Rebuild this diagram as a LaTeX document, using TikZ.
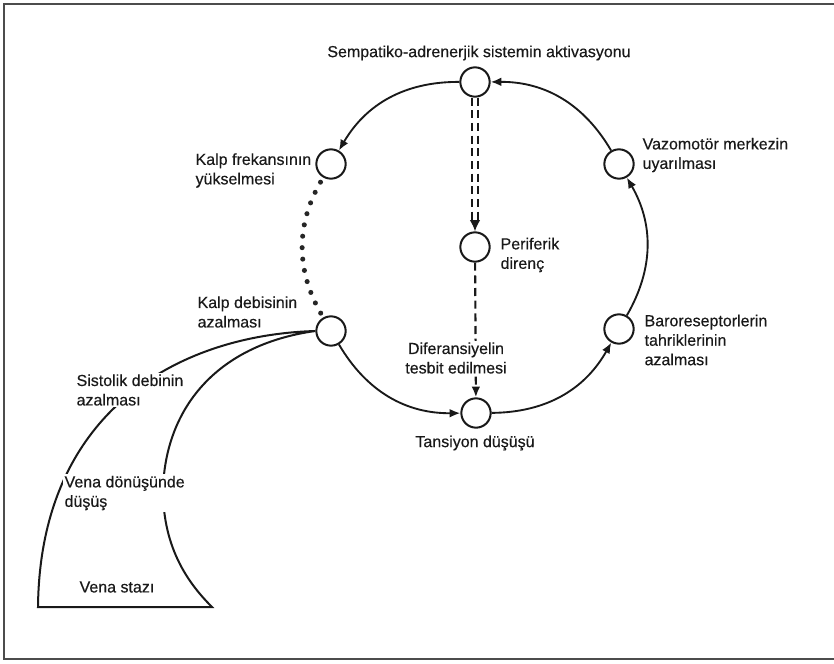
\documentclass[tikz,border=0pt]{standalone}
\usepackage{fontspec}
\setmainfont{Liberation Sans}
\newfontfamily\lblfont{Liberation Sans}[BoldFont=Liberation Sans, BoldFeatures={FakeBold=0.35}]
\usetikzlibrary{arrows.meta}
\begin{document}
\begin{tikzpicture}[x=0.75pt,y=-0.75pt,
  state/.style={circle, draw=black!90, line width=1.5pt, minimum size=22pt, inner sep=0pt, fill=white},
  lbl/.style={font=\lblfont\bfseries\fontsize{12}{14.6}\selectfont, text=black!90, inner sep=1pt, align=left, fill=white},
  arcarrow/.style={draw=black!90, line width=1.4pt, -{Latex[length=8pt,width=6.5pt]}},
  bigdots/.style={draw=black!85, line width=3.8pt, line cap=round, dash pattern=on 0pt off 8.6pt},
  dashline/.style={draw=black!90, line width=1.6pt, dash pattern=on 6pt off 3.5pt},
  frameline/.style={draw=black!70, line width=1.5pt},
  curveline/.style={draw=black!90, line width=1.5pt}
]
\useasboundingbox (0,0) rectangle (834,663);

% frame
\coordinate (f1) at (4,659);
\coordinate (f2) at (4,4);
\coordinate (f3) at (834,4);
\coordinate (f4) at (834,659);
\draw[frameline] (f3) -- (f2) -- (f1) -- (f4);

% circle nodes
\node[state] (top) at (475,82) {};
\node[state] (kf)  at (331,164) {};
\node[state] (kd)  at (331,331) {};
\node[state] (tan) at (476,413) {};
\node[state] (bar) at (619,329) {};
\node[state] (vaz) at (619,164) {};
\node[state] (per) at (475,247) {};

% cycle
\draw[arcarrow] (top) to[bend right=30] (kf);
\draw[bigdots, shorten <=4pt, shorten >=3pt] (kf) to[bend right=30] (kd);
\draw[arcarrow] (kd) to[bend right=30] (tan);
\draw[arcarrow] (tan) to[bend right=30] (bar);
\draw[arcarrow] (bar) to[bend right=30] (vaz);
\draw[arcarrow] (vaz) to[bend right=30] (top);

% double dashed line to periferik
\draw[dashline, line width=1.3pt, shorten >=6pt, transform canvas={xshift=-2.1pt}] (top) -- (per);
\draw[dashline, line width=1.3pt, shorten >=6pt, transform canvas={xshift=2.1pt}] (top) -- (per);
\draw[draw=black!90, line width=1.3pt, dash pattern=on 0pt off 2000pt, -{Latex[length=8.5pt,width=8pt]}] (top) -- (per);

% dashed line to tansiyon
\draw[dashline, -{Latex[length=8pt,width=6.5pt]}] (per) -- (tan);

% left shape
\coordinate (ob) at (38,607);
\coordinate (ib) at (212,607);
\draw[curveline] (kd.west) .. controls (180,335) and (40,410) .. (ob) -- (ib)
  .. controls (190,585) and (163,550) .. (163,490)
  .. controls (165,410) and (215,345) .. (kd.west);

% labels
\node[lbl, fill=none] (ltop) at (479,53) {Sempatiko-adrenerjik sistemin aktivasyonu};
\node[lbl, anchor=west] (lkf) at (194,170.5) {Kalp frekansının\\yükselmesi};
\node[lbl, anchor=west] (lkd) at (196,312) {Kalp debisinin\\azalması};
\node[lbl, anchor=west] (lvaz) at (641,155) {Vazomotör merkezin\\uyarılması};
\node[lbl, anchor=west] (lbar) at (643,340) {Baroreseptorlerin\\tahriklerinin\\azalması};
\node[lbl, anchor=west] (lper) at (499,255) {Periferik\\direnç};
\node[lbl, align=center] (ldif) at (456,358) {Diferansiyelin\\tesbit edilmesi};
\node[lbl] (ltan) at (475,443) {Tansiyon düşüşü};
\node[lbl, anchor=west] (lsis) at (75,390) {Sistolik debinin\\azalması};
\node[lbl, anchor=west] (lven) at (63,493) {Vena dönüşünde\\düşüş};
\node[lbl, anchor=west] (lsta) at (78,587) {Vena stazı};
\end{tikzpicture}
\end{document}
